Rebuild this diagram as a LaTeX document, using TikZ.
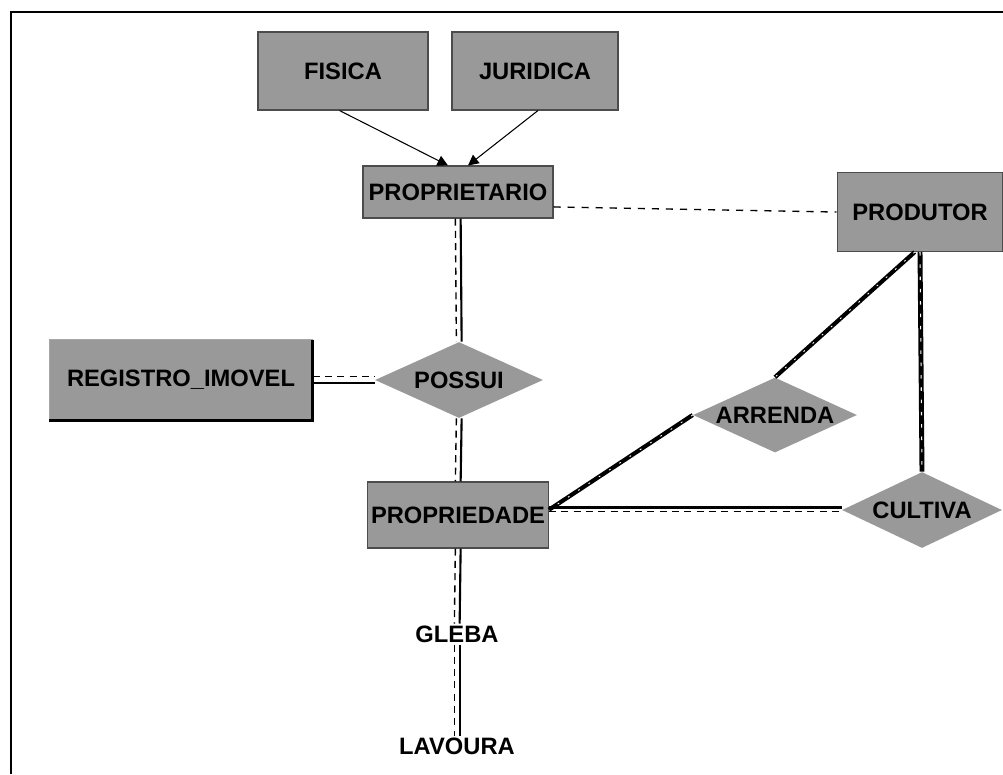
\documentclass[tikz,border=0pt]{standalone}
\usepackage{fontspec}
\setmainfont{Liberation Sans}
\usepackage{tikz}
\usetikzlibrary{shapes.geometric,arrows.meta,positioning,calc}

\begin{document}
\begin{tikzpicture}[x=0.02cm,y=-0.02cm,
    font=\fontsize{13.5}{16}\selectfont\bfseries,
    ent/.style={rectangle, draw=black!70, line width=0.6pt, fill=black!40, inner sep=0pt},
    rel/.style={diamond, aspect=2.2, fill=black!40, inner sep=0pt},
    tie/.style={line width=1.2pt},
    tiedash/.style={line width=0.8pt, dash pattern=on 4pt off 3pt},
    heavy/.style={line width=2.4pt},
    isa/.style={line width=0.6pt, -{Triangle[length=6pt,width=6pt]}}]
    \useasboundingbox (0,0) rectangle (1003,774);
    % frame
    \draw[line width=1.4pt] (11,774) -- (11,12) -- (1003,12);
    % entities
    \foreach \n/\x/\y/\w/\h/\t in {fisica/343/71/3.4/1.56/FISICA,
        juridica/535/71/3.32/1.56/JURIDICA,
        proprietario/458/192/3.8/1.04/PROPRIETARIO,
        produtor/920/212/3.32/1.58/PRODUTOR,
        propriedade/458/515/3.62/1.32/PROPRIEDADE}
        \node[ent, minimum width=\w cm, minimum height=\h cm] (\n) at (\x,\y) {\t};
    \node[rectangle, fill=black!40, inner sep=0pt, minimum width=5.26cm, minimum height=1.6cm] (registro) at (181,380) {REGISTRO\_IMOVEL};
    \draw[black!35, line width=0.6pt] (registro.south west) -- (registro.north west) -- (registro.north east);
    \draw[line width=1.6pt] (registro.north east) -- (registro.south east) -- (registro.south west);
    % relationships
    \foreach \n/\x/\y/\w/\h/\t in {possui/459/380/3.36/1.52/POSSUI,
        arrenda/775/415/3.28/1.5/ARRENDA,
        cultiva/922/510/3.2/1.52/CULTIVA}
        \node[rel, minimum width=\w cm, minimum height=\h cm] (\n) at (\x,\y) {\t};
    % plain labels
    \node[inner sep=1pt] (gleba) at (457,634) {GLEBA};
    \node[inner sep=1pt] (lavoura) at (457,746) {LAVOURA};
    % generalisation
    \draw[isa] (fisica.south west) ++(82,0) coordinate (f1) (f1) -- ([xshift=-0.2cm]proprietario.north);
    \draw[isa] (juridica.south) ++(3,0) coordinate (j1) (j1) -- ([xshift=0.2cm]proprietario.north);
    \draw[tiedash, dash pattern=on 4pt off 4pt] ([yshift=-8.5pt]proprietario.east) -- (produtor.west);
    % vertical ties
    \foreach \a/\b in {proprietario/possui, possui/propriedade, propriedade/gleba, gleba/lavoura} {
        \draw[tie] ([xshift=1.5pt]\a.south) -- ([xshift=1.5pt]\b.north);
        \draw[tiedash] ([xshift=-1.5pt]\a.south) -- ([xshift=-1.5pt]\b.north);
    }
    \draw[tiedash] ([yshift=2pt]registro.east) -- ([yshift=2pt]possui.west);
    \draw[tie] ([yshift=-1.5pt]registro.east) -- ([yshift=-1.5pt]possui.west);
    % heavy ties
    \draw[heavy] ([xshift=-3pt]produtor.south) -- (arrenda.north);
    \draw[white, line width=0.5pt, dash pattern=on 1pt off 6pt] ([xshift=-3pt]produtor.south) -- (arrenda.north);
    \draw[heavy] (arrenda.west) -- ([yshift=3pt]propriedade.east);
    \draw[white, line width=0.5pt, dash pattern=on 1pt off 6pt] (arrenda.west) -- ([yshift=3pt]propriedade.east);
    \draw[heavy, line width=2.8pt] (produtor.south) -- (cultiva.north);
    \draw[white, line width=0.6pt, dash pattern=on 2pt off 5pt] (produtor.south) -- (cultiva.north);
    \draw[line width=1.8pt] ([yshift=1.5pt]propriedade.east |- cultiva.west) -- ([yshift=1.5pt]cultiva.west);
    \draw[tiedash] ([yshift=-1pt]propriedade.east |- cultiva.west) -- ([yshift=-1pt]cultiva.west);
\end{tikzpicture}
\end{document}
